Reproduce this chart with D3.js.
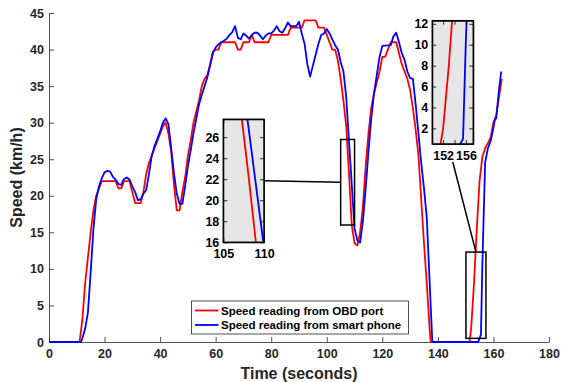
<!DOCTYPE html>
<html>
<head>
<meta charset="utf-8">
<script src="https://cdn.jsdelivr.net/npm/d3@7"></script>
<style>
  body { margin: 0; background: #fff; }
  text { font-family: "Liberation Sans", Arial, sans-serif; font-weight: bold; }
</style>
</head>
<body>
<div id="d3-graph"></div>

<script>
// Speed from the OBD port (time in s, speed in km/h)
var obdTime = [0, 11, 12, 13, 14, 15, 16, 17, 18, 19, 24, 25, 26, 27, 29, 30, 31, 33, 34, 35,
  36, 37, 38, 39, 40, 41, 42, 43, 44, 45, 46, 47, 48, 49, 50, 51, 52, 53, 54, 55,
  56, 57, 58, 59, 60, 61, 62, 67, 68, 69, 70, 72, 73, 74, 79, 80, 86, 87, 91, 92,
  96, 97, 99, 100, 101, 102, 103, 104, 105, 106, 107, 108, 109, 110, 111, 112, 113, 114, 115, 116,
  117, 118, 119, 120, 121, 122, 123, 125, 126, 127, 128, 129, 130, 131, 132, 133, 134, 135, 136, 137,
  137.4, 151.4, 152, 153, 154, 155, 156, 157, 158, 159, 160, 161, 162, 163];
var obdSpeed = [0, 0, 3, 8, 11.5, 15, 18, 20, 21, 22, 22, 21, 21, 22, 22, 20.5, 19, 19, 20.5, 23,
  24.5, 25.5, 26.5, 27.5, 28.5, 29.5, 30, 28.5, 26, 21.5, 18, 18, 20.5, 22.5, 25.5, 27.5, 30, 31.5, 33, 35,
  36, 36.5, 38, 39.7, 40, 40, 41, 41, 40, 40, 41, 41, 42, 41, 41, 42, 42, 43, 43, 44,
  44, 43, 43, 42, 41, 40, 40, 38.5, 36, 33, 29.5, 23, 16, 13.5, 13.2, 15, 18.5, 24, 28.5, 32,
  34, 35.5, 37, 39, 39, 40, 41, 41, 39.5, 38, 37, 36, 34.5, 32, 29, 25.5, 19.5, 13.5, 8, 2,
  0, 0, 2, 8, 15.5, 22, 25.3, 26.5, 27.2, 28, 30, 31, 33.5, 36];

// Speed from the smart phone
var phoneTime = [0, 11.5, 12, 13, 14, 15, 16, 17, 18, 19, 20, 21, 22, 23, 24, 25, 26, 27, 28, 29,
  30, 31, 32, 33, 34, 35, 36, 37, 38, 39, 40, 41, 42, 43, 44, 45, 46, 47, 48, 49,
  50, 51, 52, 53, 54, 55, 56, 57, 58, 59, 60, 61, 62, 63, 64, 65, 66, 67, 68, 69,
  70, 71, 72, 73, 74, 75, 76, 77, 78, 79, 80, 81, 82, 83, 84, 85, 86, 87, 89, 90,
  91, 92, 93, 94, 95, 96, 97, 98, 99, 100, 101, 102, 103, 104, 105, 106, 107, 108, 109, 110,
  111, 112, 113, 114, 115, 116, 117, 118, 119, 120, 123, 124, 125, 126, 127, 128, 129, 130, 131, 132,
  133, 134, 135, 136, 137, 138, 154.5, 155.5, 156, 157, 158, 159, 160, 160.5, 161, 162, 162.8];
var phoneSpeed = [0, 0, 0.5, 1.8, 4, 9.5, 15.5, 19.5, 21.3, 22.4, 23.2, 23.4, 23.3, 22.6, 22.2, 21.6, 21.5, 22.3, 22.5, 22.2,
  21.3, 20.5, 19.4, 19.5, 20.3, 20.8, 23, 25.5, 26.8, 27.8, 28.8, 30, 30.6, 29.8, 26.5, 23, 20.3, 18.9, 18.9, 21.3,
  24, 26.2, 28.5, 30.5, 32.5, 33.8, 35, 36.2, 37.8, 39.5, 40.3, 40.7, 41, 41.2, 41.5, 42, 42.4, 43.2, 41.6, 41.4,
  42.2, 41.9, 41.5, 42, 42.3, 42.3, 41.9, 41.4, 41.9, 42.2, 42.2, 42.6, 43.2, 42.5, 42.3, 42.9, 43.7, 43.2, 43.2, 43.8,
  42.2, 40.8, 38, 36.3, 37.8, 39.3, 40.8, 42, 42.2, 42.8, 42.2, 41.4, 40.6, 40, 38.3, 37, 33.5, 27.5, 21.5, 15.5,
  13.9, 13.6, 16.5, 21, 26, 30.5, 34, 36.5, 39, 40.5, 40.6, 41.8, 42.3, 41, 39.5, 38.6, 37, 36.1, 36, 32.5,
  28.5, 24.5, 21, 17, 8.5, 0, 0, 1, 10.5, 24.5, 26.5, 27.5, 29.3, 30.4, 30.6, 34.5, 37];

var seriesNames = ["Speed reading from OBD port", "Speed reading from smart phone"];
var seriesColors = ["#ff0000", "#0000ff"];

var xTicks = [0, 20, 40, 60, 80, 100, 120, 140, 160, 180];
var yTicks = [0, 5, 10, 15, 20, 25, 30, 35, 40, 45];

// zoomed windows
var zoom1X = [105, 110], zoom1Y = [16, 27.7];
var zoom1XTicks = [105, 110], zoom1YTicks = [16, 18, 20, 22, 24, 26];
var zoom2X = [150.1, 157.3], zoom2Y = [0.5, 12.3];
var zoom2XTicks = [152, 154, 156], zoom2YTicks = [2, 4, 6, 8, 10, 12];

var obd = obdTime.map(function(t, i) { return {t: t, v: obdSpeed[i]}; });
var phone = phoneTime.map(function(t, i) { return {t: t, v: phoneSpeed[i]}; });

const margin = {top: 13, right: 12, bottom: 40, left: 49},
    width = 561 - margin.left - margin.right,
    height = 382 - margin.top - margin.bottom;

const root = d3.select("#d3-graph")
  .append("svg")
    .attr("width", 561)
    .attr("height", 382);

const svg = root.append("g")
    .attr("transform", `translate(${margin.left},${margin.top})`);

const x = d3.scaleLinear().domain([0, 180]).range([0, width]);
const y = d3.scaleLinear().domain([0, 45]).range([height, 0]);

function styleAxis(g, color, size) {
  g.select(".domain").attr("stroke", color).attr("stroke-width", 0.8);
  g.selectAll(".tick line").attr("stroke", color).attr("stroke-width", 0.8);
  g.selectAll(".tick text").attr("fill", color).attr("font-size", size)
    .attr("font-family", "Liberation Sans, Arial, sans-serif").attr("font-weight", "bold");
}

// X axis
svg.append("g")
  .attr("transform", `translate(0, ${height})`)
  .call(d3.axisBottom(x).tickValues(xTicks).tickSizeInner(-5).tickSizeOuter(0).tickPadding(7))
  .call(styleAxis, "#262626", 12.5);

// Y axis
svg.append("g")
  .call(d3.axisLeft(y).tickValues(yTicks).tickSizeInner(-5).tickSizeOuter(0).tickPadding(5))
  .call(styleAxis, "#262626", 12.5);

const line = function(sx, sy) {
  return d3.line().x(function(d) { return sx(d.t); }).y(function(d) { return sy(d.v); });
};

svg.append("path").datum(obd)
  .attr("fill", "none").attr("stroke", seriesColors[0]).attr("stroke-width", 1.8)
  .attr("stroke-linejoin", "round").attr("d", line(x, y));
svg.append("path").datum(phone)
  .attr("fill", "none").attr("stroke", seriesColors[1]).attr("stroke-width", 1.8)
  .attr("stroke-linejoin", "round").attr("d", line(x, y));

// boxes marking the zoomed areas
[[zoom1X, zoom1Y], [zoom2X, zoom2Y]].forEach(function(z) {
  svg.append("rect")
    .attr("x", x(z[0][0])).attr("y", y(z[1][1]))
    .attr("width", x(z[0][1]) - x(z[0][0]))
    .attr("height", y(z[1][0]) - y(z[1][1]))
    .attr("fill", "none").attr("stroke", "#000").attr("stroke-width", 1.5);
});

// inset axes
function inset(id, left, top, w, h, xd, yd, xt, yt, xLabels) {
  const g = root.append("g").attr("transform", `translate(${left},${top})`);
  const ix = d3.scaleLinear().domain(xd).range([0, w]);
  const iy = d3.scaleLinear().domain(yd).range([h, 0]);
  g.append("rect").attr("width", w).attr("height", h).attr("fill", "#e6e6e6");
  g.append("clipPath").attr("id", id).append("rect").attr("width", w).attr("height", h);
  const c = g.append("g").attr("clip-path", `url(#${id})`);
  c.append("path").datum(obd).attr("fill", "none").attr("stroke", seriesColors[0])
    .attr("stroke-width", 1.8).attr("d", line(ix, iy));
  c.append("path").datum(phone).attr("fill", "none").attr("stroke", seriesColors[1])
    .attr("stroke-width", 1.8).attr("d", line(ix, iy));
  g.append("g").attr("transform", `translate(0,${h})`)
    .call(d3.axisBottom(ix).tickValues(xt).tickSizeInner(-4).tickSizeOuter(0).tickPadding(7)
      .tickFormat(function(d) { return xLabels.indexOf(d) >= 0 ? d : ""; }))
    .call(styleAxis, "#000", 12.5);
  g.append("g")
    .call(d3.axisTop(ix).tickValues(xt).tickSizeInner(-4).tickSizeOuter(0).tickFormat(""))
    .call(styleAxis, "#000", 12.5);
  g.append("g")
    .call(d3.axisLeft(iy).tickValues(yt).tickSizeInner(-4).tickSizeOuter(0).tickPadding(4))
    .call(styleAxis, "#000", 12.5);
  g.append("g").attr("transform", `translate(${w},0)`)
    .call(d3.axisRight(iy).tickValues(yt).tickSizeInner(-4).tickSizeOuter(0).tickFormat(""))
    .call(styleAxis, "#000", 12.5);
  g.append("rect").attr("width", w).attr("height", h)
    .attr("fill", "none").attr("stroke", "#000").attr("stroke-width", 1.5);
}

inset("clip1", 223.3, 119.3, 40.7, 123, zoom1X, zoom1Y, zoom1XTicks, zoom1YTicks, [105, 110]);
inset("clip2", 432.3, 20.7, 41, 123.3, zoom2X, zoom2Y, zoom2XTicks, zoom2YTicks, [152, 156]);

// connector lines
root.append("line")
  .attr("x1", 264).attr("y1", 180.8)
  .attr("x2", margin.left + x(zoom1X[0]))
  .attr("y2", margin.top + (y(zoom1Y[0]) + y(zoom1Y[1])) / 2)
  .attr("stroke", "#000").attr("stroke-width", 1.5);
root.append("line")
  .attr("x1", 452.8).attr("y1", 162)
  .attr("x2", margin.left + (x(zoom2X[0]) + x(zoom2X[1])) / 2)
  .attr("y2", margin.top + y(zoom2Y[1]))
  .attr("stroke", "#000").attr("stroke-width", 1.5);

// legend
const legend = root.append("g").attr("transform", "translate(191.5,301)");
legend.append("rect").attr("width", 217).attr("height", 33)
  .attr("fill", "#fff").attr("stroke", "#262626").attr("stroke-width", 0.8);
seriesNames.forEach(function(name, i) {
  legend.append("line").attr("x1", 3.5).attr("x2", 27).attr("y1", 9.5 + i * 14.5).attr("y2", 9.5 + i * 14.5)
    .attr("stroke", seriesColors[i]).attr("stroke-width", 1.8);
  legend.append("text").attr("x", 29.5).attr("y", 13.5 + i * 14.5)
    .attr("font-size", 11.5).attr("fill", "#000").text(name);
});

// axis titles
root.append("text")
  .attr("x", margin.left + width / 2).attr("y", 379)
  .attr("text-anchor", "middle").attr("font-size", 16).attr("fill", "#262626")
  .text("Time (seconds)");
root.append("text")
  .attr("transform", `translate(22,${margin.top + height / 2}) rotate(-90)`)
  .attr("text-anchor", "middle").attr("font-size", 16).attr("fill", "#262626")
  .text("Speed (km/h)");
</script>
</body>
</html>
